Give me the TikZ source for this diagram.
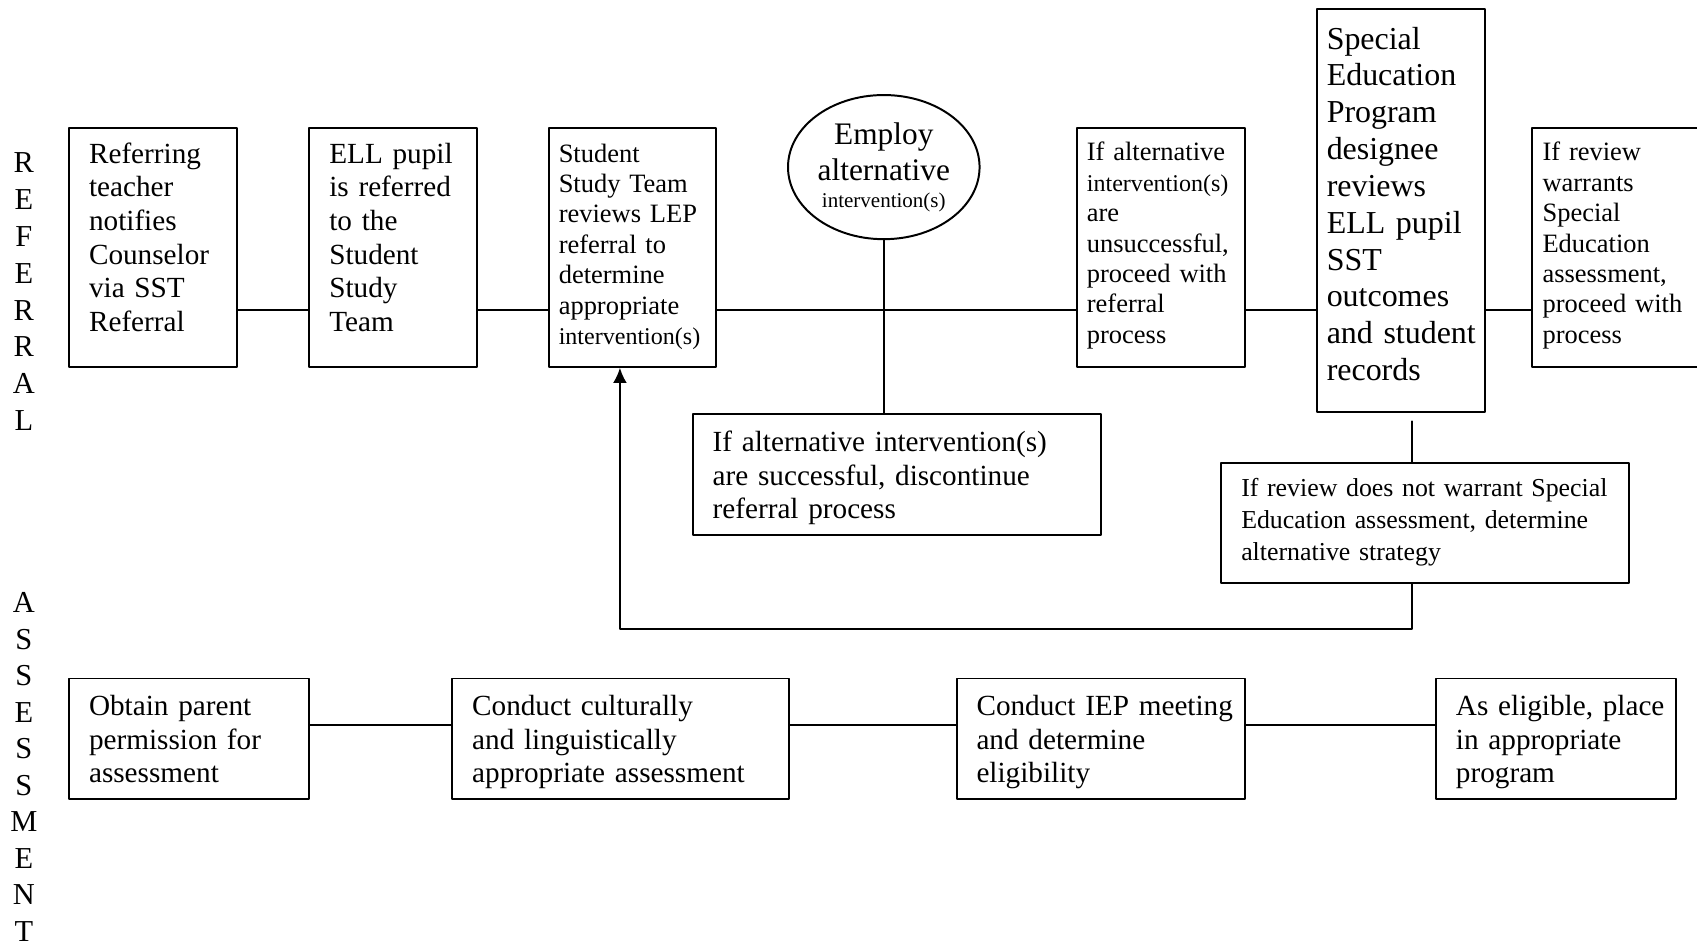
\documentclass[tikz,border=0pt]{standalone}
\usepackage{fontspec}
\setmainfont{Liberation Serif}
\usetikzlibrary{shapes.geometric,arrows.meta}

\newcommand{\fbig}{\fontsize{19.2}{22.05}\selectfont}
\newcommand{\fmid}{\fontsize{17.4}{20}\selectfont}
\newcommand{\fsep}{\fontsize{21}{24.2}\selectfont}
\newcommand{\fletter}{\fontsize{20}{24.2}\selectfont}

\begin{document}
\begin{tikzpicture}[line cap=round,line join=round,>={Latex[length=3.5mm,width=3.2mm]},x=1.0cm,y=1.0cm,
	box/.style={draw,line width=1.3pt,anchor=north west,inner sep=0pt},
	txt/.style={anchor=base west,inner sep=0pt,align=left},
	link/.style={line width=1.3pt}]
	\useasboundingbox (0,0) rectangle (39.2,-21.875);
	\clip (0,0) rectangle (39.2,-21.875);
	% side titles
	\node[anchor=base,inner sep=0pt,text width=1cm,align=center,font=\fletter] (refer) at (0.55,-3.99) {R\\E\\F\\E\\R\\R\\A\\L};
	\node[anchor=base,inner sep=0pt,text width=1cm,align=center,font=\fontsize{20}{24}\selectfont] (assess) at (0.55,-14.15) {A\\S\\S\\E\\S\\S\\M\\E\\N\\T};
	% referral row
	\node[box,minimum width=3.875cm,minimum height=5.525cm] (teacher) at (1.575,-2.925) {};
	\node[txt,text width=3.3cm,font=\fbig] (teacher-t) at ([shift={(0.475,-0.85)}]teacher.north west) {Referring\\teacher\\notifies\\Counselor\\via SST\\Referral};
	\node[box,minimum width=3.875cm,minimum height=5.525cm] (pupil) at (7.125,-2.925) {};
	\node[txt,text width=3.3cm,font=\fbig] (pupil-t) at ([shift={(0.475,-0.85)}]pupil.north west) {ELL pupil\\is referred\\to the\\Student\\Study\\Team};
	\node[box,minimum width=3.875cm,minimum height=5.525cm] (sst) at (12.65,-2.925) {};
	\node[txt,text width=3.6cm,font=\fmid] (sst-t) at ([shift={(0.25,-0.82)}]sst.north west) {Student\\Study Team\\reviews LEP\\referral to\\determine\\appropriate\\{\fontsize{15.8}{20}\selectfont intervention(s)}};
	\node[ellipse,draw,line width=1.3pt,minimum width=4.425cm,minimum height=3.33cm,inner sep=0pt,align=center,font=\fontsize{20.6}{24.1}\selectfont] (employ) at (20.415,-3.86) {Employ\\alternative\\[-6.6pt]{\fontsize{13.8}{16}\selectfont intervention(s)}};
	\node[box,minimum width=3.875cm,minimum height=5.525cm] (unsucc) at (24.85,-2.925) {};
	\node[txt,text width=3.6cm,font=\fmid] (unsucc-t) at ([shift={(0.25,-0.79)}]unsucc.north west) {If alternative\\{\fontsize{15.8}{20}\selectfont intervention(s)}\\are\\unsuccessful,\\proceed with\\referral\\process};
	\node[box,minimum width=3.875cm,minimum height=9.3cm] (sep) at (30.4,-0.195) {};
	\node[txt,text width=3.6cm,font=\fsep] (sep-t) at ([shift={(0.24,-0.94)}]sep.north west) {Special\\Education\\Program\\designee\\reviews\\ELL pupil\\SST\\outcomes\\and student\\records};
	\node[box,minimum width=4.6cm,minimum height=5.525cm] (warrant) at (35.375,-2.925) {};
	\node[txt,text width=3.6cm,font=\fmid] (warrant-t) at ([shift={(0.25,-0.79)}]warrant.north west) {If review\\warrants\\Special\\Education\\assessment,\\proceed with\\process};
	\node[box,minimum width=9.42cm,minimum height=2.785cm] (discont) at (15.98,-9.55) {};
	\node[txt,text width=8.8cm,font=\fbig] (discont-t) at ([shift={(0.475,-0.88)}]discont.north west) {If alternative intervention(s)\\are successful, discontinue\\referral process};
	\node[box,minimum width=9.44cm,minimum height=2.77cm] (notwarrant) at (28.175,-10.68) {};
	\node[txt,text width=8.9cm,font=\fontsize{17}{21}\selectfont] (notwarrant-t) at ([shift={(0.49,-0.79)}]notwarrant.north west) {If review does not warrant Special\\Education assessment, determine\\alternative strategy};
	% assessment row
	\node[box,minimum width=5.55cm,minimum height=2.775cm] (obtain) at (1.575,-15.65) {};
	\node[txt,text width=5cm,font=\fbig] (obtain-t) at ([shift={(0.475,-0.88)}]obtain.north west) {Obtain parent\\permission for\\assessment};
	\node[box,minimum width=7.775cm,minimum height=2.775cm] (conduct) at (10.425,-15.65) {};
	\node[txt,text width=7.2cm,font=\fbig] (conduct-t) at ([shift={(0.475,-0.88)}]conduct.north west) {Conduct culturally\\and linguistically\\appropriate assessment};
	\node[box,minimum width=6.65cm,minimum height=2.775cm] (iep) at (22.075,-15.65) {};
	\node[txt,text width=6.1cm,font=\fbig] (iep-t) at ([shift={(0.475,-0.88)}]iep.north west) {Conduct IEP meeting\\and determine\\eligibility};
	\node[box,minimum width=5.55cm,minimum height=2.775cm] (place) at (33.15,-15.65) {};
	\node[txt,text width=5cm,font=\fbig] (place-t) at ([shift={(0.475,-0.88)}]place.north west) {As eligible, place\\in appropriate\\program};
	% connectors
	\coordinate (rowR) at (0,-7.16);
	\coordinate (rowA) at (0,-16.75);
	\draw[link] (teacher.east |- rowR) -- (pupil.west |- rowR);
	\draw[link] (pupil.east |- rowR) -- (sst.west |- rowR);
	\draw[link] (sst.east |- rowR) -- (unsucc.west |- rowR);
	\draw[link] (unsucc.east |- rowR) -- (sep.west |- rowR);
	\draw[link] (sep.east |- rowR) -- (warrant.west |- rowR);
	\draw[link] (employ.south) -- (employ.south |- discont.north);
	\coordinate (gap) at (32.62,-9.735);
	\draw[link] (gap) -- (gap |- notwarrant.north);
	\coordinate (ret) at (14.32,-14.525);
	\draw[link,->] (gap |- notwarrant.south) |- (ret) -- (ret |- sst.south);
	\draw[link] (obtain.east |- rowA) -- (conduct.west |- rowA);
	\draw[link] (conduct.east |- rowA) -- (iep.west |- rowA);
	\draw[link] (iep.east |- rowA) -- (place.west |- rowA);
\end{tikzpicture}
\end{document}
